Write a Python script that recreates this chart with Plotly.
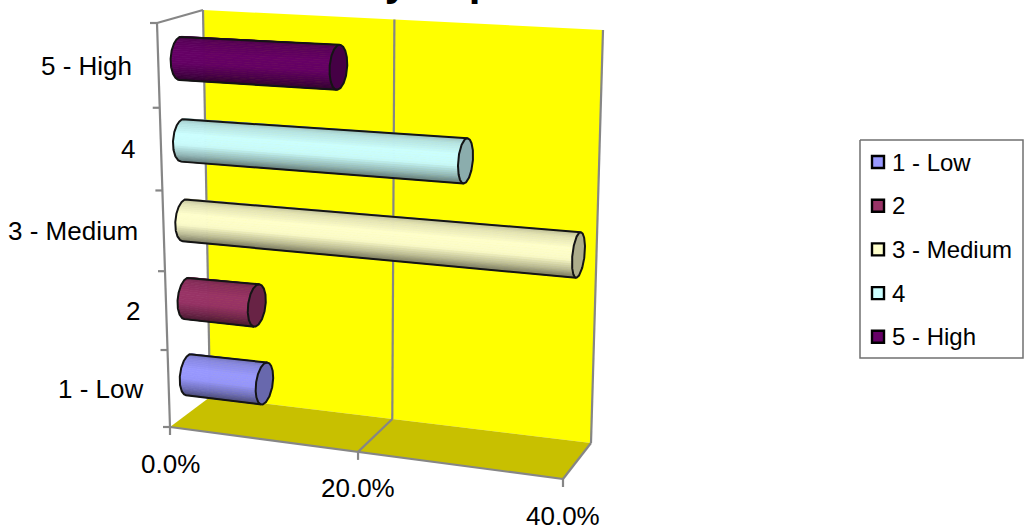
import numpy as np
import plotly.graph_objects as go

# Chart data
categories = ["1 - Low", "2", "3 - Medium", "4", "5 - High"]
shares = [8.3, 7.6, 39.6, 28.8, 16.3]
value_ticks = [0, 20, 40]
value_tick_labels = ["0.0%", "20.0%", "40.0%"]
bar_colors = ["#9999FF", "#993366", "#FFFFCC", "#CCFFFF", "#660066"]

# Scene box on screen: corners of the value/category/depth cube
AXIS_MAX = 40.0
BOX = {
    (0, 0, 0): (170, 427), (1, 0, 0): (563, 479),
    (0, 1, 0): (157, 23), (1, 1, 0): (575, 44),
    (0, 0, 1): (210, 397), (1, 0, 1): (591, 443),
    (0, 1, 1): (203, 10), (1, 1, 1): (603, 30),
}
PERSPECTIVE_X = 1.09
PERSPECTIVE_Y = 1.062
RADIUS_U = 0.052
RADIUS_Z = 0.23
GRID = "#868686"
FONT = "Liberation Sans"


def project(v, u, z):
    """Map value, category fraction and depth fraction to screen coordinates."""
    v, u, z = np.asarray(v, float), np.asarray(u, float), np.asarray(z, float)
    s = v / AXIS_MAX
    tx = s / (s + PERSPECTIVE_X * (1 - s))
    ty = u / (u + PERSPECTIVE_Y * (1 - u))
    px, py = 0.0, 0.0
    for (a, b, c), (cx, cy) in BOX.items():
        w = (tx if a else 1 - tx) * (ty if b else 1 - ty) * (z if c else 1 - z)
        px = px + w * cx
        py = py + w * cy
    return px, py


def shade(color, k):
    rgb = [int(color[i:i + 2], 16) for i in (1, 3, 5)]
    return "rgb({},{},{})".format(*[int(round(c * k)) for c in rgb])


def brightness(f):
    return float(np.interp(f, [0, 0.12, 0.38, 0.62, 0.85, 1], [0.72, 0.88, 1, 0.98, 0.72, 0.48]))


fig = go.Figure()


def polygon(xs, ys, fill, seam=None):
    fig.add_trace(go.Scatter(
        x=list(xs), y=list(ys), mode="lines", fill="toself", fillcolor=fill,
        line=dict(color=seam or fill, width=0.8 if seam else 0),
        hoverinfo="skip", showlegend=False))


def stroke(xs, ys, color=GRID, width=2.2):
    fig.add_trace(go.Scatter(
        x=list(xs), y=list(ys), mode="lines", line=dict(color=color, width=width),
        hoverinfo="skip", showlegend=False))


def face(corners, fill):
    pts = [project(*c) for c in corners]
    polygon([float(p[0]) for p in pts], [float(p[1]) for p in pts], fill)


def segment(a, b, color=GRID, width=2.2):
    pa, pb = project(*a), project(*b)
    stroke([float(pa[0]), float(pb[0])], [float(pa[1]), float(pb[1])], color, width)


# Back wall and floor
face([(0, 0, 1), (AXIS_MAX, 0, 1), (AXIS_MAX, 1, 1), (0, 1, 1)], "#FFFF00")
face([(0, 0, 0), (AXIS_MAX, 0, 0), (AXIS_MAX, 0, 1), (0, 0, 1)], "#C8C000")

# Gridline at the middle value tick, along floor and wall
for tick in value_ticks[1:-1]:
    segment((tick, 0, 0), (tick, 0, 1))
    segment((tick, 0, 1), (tick, 1, 1))

# Frame edges
segment((0, 0, 0), (0, 1, 0))
segment((0, 1, 0), (0, 1, 1))
segment((0, 1, 1), (0, 0, 1))
segment((0, 0, 0), (AXIS_MAX, 0, 0))
segment((AXIS_MAX, 0, 0), (AXIS_MAX, 0, 1))
segment((AXIS_MAX, 0, 1), (AXIS_MAX, 1, 1))

# Tick marks
n = len(categories)
for i in range(n + 1):
    x0, y0 = project(0, i / n, 0)
    stroke([float(x0), float(x0) - 7], [float(y0), float(y0)])
for tick in value_ticks:
    x0, y0 = project(tick, 0, 0)
    stroke([float(x0), float(x0)], [float(y0), float(y0) + 8])

# Cylinders
for i, (value, color) in enumerate(zip(shares, bar_colors)):
    uc = (i + 0.5) / n
    theta = np.linspace(0, 2 * np.pi, 361)
    us = uc + RADIUS_U * np.cos(theta)
    zs = 0.5 + RADIUS_Z * np.sin(theta)

    # Rim outlines at both ends of the bar
    x_a, y_a = project(np.zeros_like(theta), us, zs)
    x_b, y_b = project(np.full_like(theta, value), us, zs)

    # Silhouette tangents: extreme rim points across the bar's direction
    ax0, ay0 = project(0, uc, 0.5)
    ax1, ay1 = project(value, uc, 0.5)
    nx, ny = -(ay1 - ay0), ax1 - ax0
    offset = (x_b - ax1) * nx + (y_b - ay1) * ny
    top = int(np.argmin(offset[:-1]))
    bottom = int(np.argmax(offset[:-1]))

    # Walk the rim from top tangent to bottom tangent across the viewer-facing side
    step = -1 if ((top - bottom) % 360) > 180 else 1
    count = (bottom - top) % 360 if step == 1 else (top - bottom) % 360
    idx = [(top + step * k) % 360 for k in range(count + 1)]
    test = zs[idx[len(idx) // 2]]
    if test > 0.5:
        step = -step
        count = 360 - count
        idx = [(top + step * k) % 360 for k in range(count + 1)]

    strips = 30
    marks = np.linspace(0, len(idx) - 1, strips + 1).round().astype(int)
    angles = np.linspace(0, np.pi, strips + 1)
    for k in range(strips):
        p, q = idx[marks[k]], idx[marks[k + 1]]
        mid = (angles[k] + angles[k + 1]) / 2
        f = (1 - np.cos(mid)) / 2
        fill = shade(color, brightness(f))
        polygon([x_a[p], x_b[p], x_b[q], x_a[q]], [y_a[p], y_b[p], y_b[q], y_a[q]], fill, fill)

    # Lit end cap
    polygon(x_b, y_b, shade(color, 0.68))

    # Dark outline of the body and end cap
    outline_x = [x_b[top]] + [x_a[j] for j in idx] + [x_b[bottom]]
    outline_y = [y_b[top]] + [y_a[j] for j in idx] + [y_b[bottom]]
    stroke(outline_x, outline_y, "#141414", 2)
    stroke(x_b, y_b, "#141414", 2)

annotations = []


def label(x, y, text, size, xanchor="center", yanchor="middle"):
    annotations.append(dict(
        x=float(x), y=float(y), text=text, showarrow=False, xanchor=xanchor, yanchor=yanchor,
        font=dict(family=FONT, size=size, color="#000000"), borderpad=0))


# Axis labels
for i, name in enumerate(categories):
    x0, y0 = project(0, (i + 0.5) / n, 0)
    label(x0 - 25, y0, name, 26, xanchor="right")
for tick, text in zip(value_ticks, value_tick_labels):
    x0, y0 = project(tick, 0, 0)
    label(x0, y0 + 36.5, text, 26)

# Legend box
LEGEND_LEFT, LEGEND_RIGHT, LEGEND_TOP, LEGEND_BOTTOM = 860, 1023, 140, 358
stroke([LEGEND_LEFT, LEGEND_RIGHT, LEGEND_RIGHT, LEGEND_LEFT, LEGEND_LEFT],
       [LEGEND_TOP, LEGEND_TOP, LEGEND_BOTTOM, LEGEND_BOTTOM, LEGEND_TOP], "#707070", 1.5)
row_y = [162 + 43.7 * i for i in range(n)]
fig.add_trace(go.Scatter(
    x=[878] * n, y=row_y, mode="markers",
    marker=dict(symbol="square", size=12, color=bar_colors, line=dict(color="#000000", width=2.4)),
    hoverinfo="skip", showlegend=False))
for name, y in zip(categories, row_y):
    label(891, y, name, 24, xanchor="left")

# Title, running off the top of the canvas
annotations.append(dict(
    x=358 / 1029, y=1 - 5 / 529, xref="paper", yref="paper", text="<b>by Impact</b>",
    showarrow=False, xanchor="left", yanchor="bottom", borderpad=0,
    font=dict(family=FONT, size=42, color="#000000")))

fig.update_layout(
    width=1029, height=529, margin=dict(l=0, r=0, t=0, b=0),
    paper_bgcolor="white", plot_bgcolor="white", showlegend=False,
    xaxis=dict(range=[0, 1029], visible=False, fixedrange=True),
    yaxis=dict(range=[529, 0], visible=False, fixedrange=True),
    annotations=annotations,
)
fig.write_html("out.html", config=dict(displayModeBar=False))
